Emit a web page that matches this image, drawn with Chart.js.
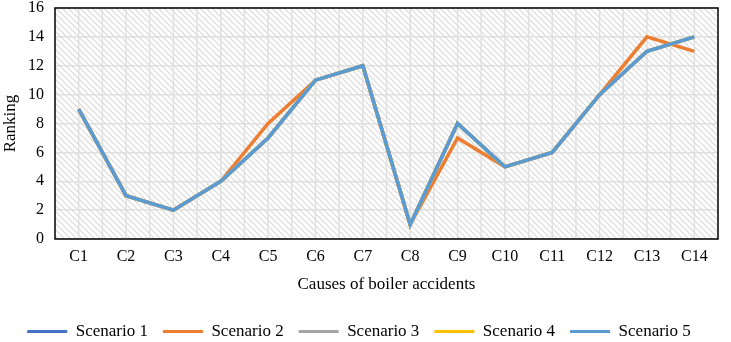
<!DOCTYPE html>
<html>
<head>
<meta charset="utf-8">
<script src="https://cdn.jsdelivr.net/npm/chart.js@4"></script>
<style>
  html, body { margin: 0; padding: 0; background: #fff; }
  #wrap { width: 731px; height: 342px; position: relative; }
</style>
</head>
<body>
<div id="wrap"><canvas id="lineChart" width="731" height="342"></canvas></div>
<script>
const categories = ['C1', 'C2', 'C3', 'C4', 'C5', 'C6', 'C7', 'C8', 'C9', 'C10', 'C11', 'C12', 'C13', 'C14'];
const seriesNames = ['Scenario 1', 'Scenario 2', 'Scenario 3', 'Scenario 4', 'Scenario 5'];
const scenario1 = [9, 3, 2, 4, 7, 11, 12, 1, 8, 5, 6, 10, 13, 14];
const scenario2 = [9, 3, 2, 4, 8, 11, 12, 1, 7, 5, 6, 10, 14, 13];
const scenario3 = [9, 3, 2, 4, 7, 11, 12, 1, 8, 5, 6, 10, 13, 14];
const scenario4 = [9, 3, 2, 4, 7, 11, 12, 1, 8, 5, 6, 10, 13, 14];
const scenario5 = [9, 3, 2, 4, 7, 11, 12, 1, 8, 5, 6, 10, 13, 14];
const yTicks = [0, 2, 4, 6, 8, 10, 12, 14, 16];

const colors = ['#4472C4', '#ED7D31', '#A5A5A5', '#FFC000', '#5B9BD5'];
const values = [scenario1, scenario2, scenario3, scenario4, scenario5];
const font = 'Liberation Serif, Times New Roman, serif';

// hatched background like the Excel plot area
function makeHatch() {
    const c = document.createElement('canvas');
    c.width = 6; c.height = 6;
    const g = c.getContext('2d');
    g.fillStyle = '#fff';
    g.fillRect(0, 0, 6, 6);
    g.strokeStyle = '#dadada';
    g.lineWidth = 1.2;
    g.beginPath();
    g.moveTo(-1, -1); g.lineTo(7, 7);
    g.moveTo(-4, 2); g.lineTo(4, 10);
    g.moveTo(2, -4); g.lineTo(10, 4);
    g.stroke();
    return g.createPattern(c, 'repeat');
}

const plotBg = {
    id: 'plotBg',
    beforeDraw(chart) {
        const { ctx, chartArea: a, scales: { x } } = chart;
        ctx.save();
        ctx.fillStyle = makeHatch();
        ctx.fillRect(a.left, a.top, a.right - a.left, a.bottom - a.top);
        // vertical lines at every half category
        ctx.strokeStyle = '#e0e0e0';
        ctx.lineWidth = 1.5;
        for (let i = -0.5; i < categories.length; i += 0.5) {
            const px = x.getPixelForValue(i);
            if (px <= a.left + 1 || px >= a.right - 1) continue;
            ctx.beginPath();
            ctx.moveTo(px, a.top);
            ctx.lineTo(px, a.bottom);
            ctx.stroke();
        }
        ctx.restore();
    },
    afterDraw(chart) {
        const { ctx, chartArea: a } = chart;
        ctx.save();
        ctx.strokeStyle = '#000';
        ctx.lineWidth = 1.5;
        ctx.strokeRect(a.left, a.top, a.right - a.left, a.bottom - a.top);
        ctx.restore();
    }
};

new Chart(document.getElementById('lineChart'), {
    type: 'line',
    data: {
        labels: categories,
        datasets: seriesNames.map((name, i) => ({
            label: name,
            data: values[i],
            order: seriesNames.length - 1 - i,
            borderColor: colors[i],
            backgroundColor: colors[i],
            borderWidth: 3.5,
            pointRadius: 0,
            tension: 0,
            fill: false
        }))
    },
    options: {
        responsive: false,
        animation: false,
        devicePixelRatio: 1,
        layout: { padding: { top: 8, right: 13, bottom: -8, left: 0 } },
        plugins: {
            legend: {
                position: 'bottom',
                labels: {
                    boxWidth: 40,
                    boxHeight: 3,
                    padding: 15,
                    color: '#000',
                    font: { family: font, size: 17 },
                    generateLabels(chart) {
                        return chart.data.datasets.map((ds, i) => ({
                            text: ds.label,
                            fillStyle: ds.borderColor,
                            strokeStyle: ds.borderColor,
                            lineWidth: 0,
                            datasetIndex: i
                        }));
                    }
                }
            },
            tooltip: { enabled: false }
        },
        scales: {
            x: {
                offset: true,
                afterFit(scale) { scale.height = 69; },
                grid: { display: false, drawTicks: false },
                border: { display: false },
                ticks: { color: '#000', padding: 8, font: { family: font, size: 16 } },
                title: {
                    display: true,
                    text: 'Causes of boiler accidents',
                    color: '#000',
                    font: { family: font, size: 17 },
                    padding: { top: 0, bottom: 13 }
                }
            },
            y: {
                min: 0,
                max: 16,
                afterBuildTicks(scale) { scale.ticks = yTicks.map(v => ({ value: v })); },
                afterFit(scale) {
                    scale.width = 55;
                    scale.paddingTop = 0;
                    scale.paddingBottom = 0;
                },
                grid: { color: '#e0e0e0', lineWidth: 1.5, drawTicks: false },
                border: { display: false },
                ticks: { color: '#000', padding: 11, font: { family: font, size: 16 } },
                title: {
                    display: true,
                    text: 'Ranking',
                    color: '#000',
                    font: { family: font, size: 17 },
                    padding: { top: 0, bottom: 0 }
                }
            }
        }
    },
    plugins: [plotBg]
});
</script>
</body>
</html>
